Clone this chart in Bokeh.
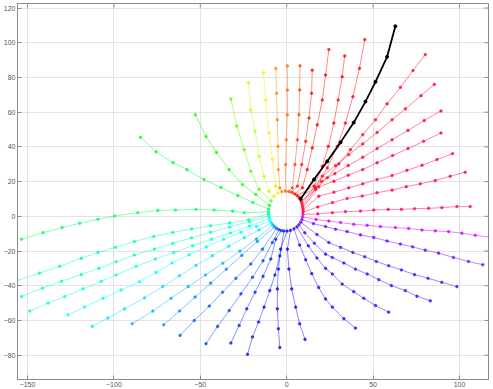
import colorsys
from bokeh.plotting import figure
from bokeh.models import Range1d, FixedTicker, ColumnDataSource
from bokeh.embed import file_html
from bokeh.resources import INLINE

# ---------------- data ----------------
X_TICKS = [-150, -100, -50, 0, 50, 100]
Y_TICKS = [-80, -60, -40, -20, 0, 20, 40, 60, 80, 100, 120]
X_LIM = (-155.8, 116.8)
Y_LIM = (-94.0, 122.6)

# each trajectory: (x values, y values), from the start circle outward
tr_u = ([9.4, 18.0, 26.4, 34.0, 42.7, 50.4, 58.7, 66.4, 74.0, 82.1, 89.8, 98.5, 106.2],
        [1.1, 1.4, 2.1, 2.7, 3.0, 3.6, 4.0, 4.0, 4.4, 4.6, 5.0, 5.6, 5.6])
tr_v = ([9.5, 18.0, 26.5, 35.0, 43.7, 52.3, 61.0, 69.2, 77.3, 86.0, 94.6, 103.3],
        [2.5, 5.4, 7.9, 10.3, 11.7, 13.6, 15.1, 17.1, 18.7, 20.6, 23.1, 25.4])
tr_w = ([9.5, 18.6, 27.3, 35.9, 44.0, 52.3, 61.0, 69.6, 78.3, 87.0, 96.0],
        [3.7, 11.6, 13.9, 16.4, 18.7, 21.2, 23.5, 26.5, 29.4, 32.7, 36.1])
tr_x = ([9.3, 18.6, 27.3, 35.6, 44.0, 52.3, 61.3, 70.2, 79.2, 89.3],
        [4.9, 17.0, 20.2, 23.7, 26.9, 30.8, 35.0, 39.0, 43.2, 48.0])
tr_y = ([9.1, 20.2, 27.9, 35.6, 44.0, 52.3, 61.0, 70.2, 79.6, 89.3],
        [6.1, 20.2, 24.6, 29.2, 34.0, 39.0, 44.1, 49.5, 55.2, 60.7])
tr_z = ([8.8, 20.6, 28.3, 35.9, 44.0, 52.3, 61.0, 68.7, 77.7, 85.4],
        [7.4, 23.1, 29.2, 35.5, 41.7, 48.3, 55.6, 61.9, 69.5, 76.0])
tr_aa = ([8.4, 16.7, 23.5, 30.2, 36.9, 44.0, 51.4, 58.1, 65.8, 73.1, 80.2],
         [8.6, 15.5, 22.2, 30.2, 38.4, 47.0, 55.6, 64.8, 74.3, 84.0, 93.2])
tr_black = ([8.1, 15.8, 23.5, 31.2, 38.8, 45.6, 51.4, 58.1, 62.9],
            [10.0, 21.2, 31.7, 42.6, 54.0, 66.1, 77.5, 91.9, 109.5])
tr_bb = ([7.1, 16.7, 23.5, 29.3, 34.0, 38.3, 42.1, 45.2],
         [10.9, 16.4, 27.9, 40.3, 53.7, 68.9, 85.2, 101.8])
tr_cc = ([6.0, 15.8, 20.6, 24.1, 27.3, 29.8, 32.1, 33.6],
         [11.9, 17.4, 28.8, 40.3, 53.7, 67.0, 80.4, 92.4])
tr_dd = ([4.6, 9.1, 11.9, 14.8, 17.7, 20.6, 22.5, 24.4],
         [12.9, 16.4, 26.9, 39.4, 52.7, 67.0, 81.4, 96.1])
tr_ee = ([3.0, 6.2, 8.7, 11.0, 12.9, 14.4, 14.8],
         [13.8, 17.4, 29.8, 43.2, 56.6, 70.9, 84.2])
tr_ff = ([1.2, 3.3, 4.8, 6.2, 7.1, 7.5, 7.7],
         [14.3, 16.4, 29.8, 44.1, 58.5, 72.8, 86.7])
tr_gg = ([-0.8, -0.6, -0.2, 0.4, 0.4, 0.4],
         [14.5, 29.8, 44.1, 58.5, 72.8, 86.7])
tr_hh = ([-2.8, -4.0, -4.8, -5.0, -5.4, -5.9, -6.3],
         [14.2, 16.4, 26.9, 40.3, 55.6, 70.9, 85.2])
tr_ii = ([-5.0, -6.3, -8.3, -10.2, -12.1, -13.5],
         [13.3, 17.4, 32.7, 48.0, 67.0, 82.7])
tr_jj = ([-7.2, -10.2, -13.1, -16.0, -18.3, -20.8, -22.1],
         [11.5, 14.5, 23.1, 34.6, 48.9, 61.3, 77.0])
tr_kk = ([-9.0, -16.0, -20.8, -24.6, -28.9, -32.3],
         [8.9, 15.5, 26.0, 38.4, 52.1, 67.6])
tr_ll = ([-10.0, -17.9, -25.6, -33.3, -40.6, -46.7, -52.9],
         [6.3, 12.6, 18.3, 26.9, 36.8, 46.0, 58.5])
tr_mm = ([-10.4, -19.6, -28.3, -38.1, -47.9, -57.7, -65.8, -75.6, -84.6],
         [4.2, 8.0, 12.0, 16.6, 21.2, 26.9, 30.9, 37.2, 45.5])
tr_a = ([-10.5, -24.6, -31.3, -42.0, -52.5, -64.4, -74.6, -86.2, -99.6, -109.2, -119.8, -130.0, -141.0, -153.5],
        [2.6, 2.1, 3.0, 3.6, 4.0, 3.6, 3.4, 2.1, 0.2, -1.7, -4.0, -6.5, -9.4, -13.2])
tr_b = ([-10.45, -22.0, -33.0, -44.0, -55.0, -66.0, -76.9, -88.1, -99.1, -109.2, -118.9, -131.4, -143.0, -156.4],
        [1.4, -2.0, -3.8, -5.5, -7.3, -9.3, -11.6, -14.5, -17.9, -20.8, -24.2, -28.8, -32.7, -37.1])
tr_c = ([-10.3, -21.5, -33.0, -44.0, -55.0, -66.0, -76.6, -88.1, -98.7, -108.7, -118.9, -130.4, -141.4, -153.5],
        [0.2, -3.0, -6.2, -9.2, -12.4, -15.6, -18.9, -22.3, -26.2, -30.0, -33.6, -37.4, -41.4, -46.2])
tr_d = ([-10.0, -21.5, -32.5, -43.5, -54.5, -65.4, -76.0, -87.1, -98.7, -107.3, -117.9, -128.5, -138.1, -148.7],
        [-1.1, -5.6, -9.6, -13.2, -17.0, -20.8, -24.6, -28.8, -33.8, -37.4, -41.8, -46.2, -50.0, -54.6])
tr_e = ([-9.5, -17.5, -26.5, -36.5, -46.5, -56.5, -66.4, -75.6, -85.2, -95.8, -106.3, -117.0, -126.5],
        [-2.5, -5.8, -9.2, -13.2, -17.6, -22.2, -26.9, -32.3, -37.7, -42.4, -47.2, -52.3, -56.7])
tr_f = ([-8.8, -16.0, -24.5, -33.5, -43.0, -52.5, -62.1, -71.7, -82.3, -93.9, -103.5, -112.5],
        [-3.8, -7.9, -12.3, -17.2, -22.7, -28.3, -34.2, -40.5, -47.0, -53.3, -58.6, -63.4])
tr_g = ([-8.0, -17.5, -27.0, -37.0, -47.0, -57.0, -66.9, -77.5, -89.4],
        [-5.0, -13.0, -20.0, -27.0, -33.8, -40.5, -47.2, -54.6, -61.9])
tr_h = ([-7.0, -17.0, -26.0, -35.0, -44.0, -53.0, -62.0, -71.2],
        [-6.1, -14.5, -22.5, -30.5, -38.5, -46.5, -54.5, -62.5])
tr_i = ([-5.8, -14.0, -20.8, -29.4, -37.1, -44.8, -53.5, -61.7],
        [-7.0, -18.9, -27.5, -35.7, -43.7, -51.7, -60.0, -68.6])
tr_j = ([-4.5, -8.3, -13.7, -19.8, -26.5, -33.3, -40.0, -46.7],
        [-7.7, -15.1, -25.6, -35.1, -44.7, -54.3, -63.4, -73.4])
tr_k = ([-3.1, -6.3, -9.2, -13.7, -18.3, -23.1, -27.5, -32.3],
        [-8.2, -13.2, -24.6, -34.6, -43.7, -53.3, -62.9, -73.0])
tr_l = ([-1.6, -4.0, -6.8, -9.8, -13.1, -16.3, -19.8, -22.7],
        [-8.45, -22.8, -33.8, -42.8, -52.3, -60.9, -69.5, -79.5])
tr_m = ([0.2, -3.5, -4.8, -5.4, -5.4, -4.8, -4.0],
        [-8.5, -18.9, -30.4, -41.8, -53.3, -64.8, -75.6])
tr_n = ([2.2, 0.4, 1.3, 2.9, 5.2, 7.5, 10.6],
        [-8.1, -18.9, -30.4, -41.8, -52.3, -61.9, -70.9])
tr_o = ([4.2, 7.5, 11.0, 14.5, 18.5, 22.5, 26.4, 33.1, 39.8],
        [-7.2, -16.5, -25.0, -33.0, -41.0, -47.6, -52.3, -59.0, -64.4])
tr_p = ([5.9, 12.5, 17.5, 22.5, 26.4, 32.1, 38.8, 44.6, 51.4, 59.0],
        [-6.1, -17.0, -24.0, -30.0, -33.2, -39.0, -43.4, -47.2, -51.4, -55.2])
tr_q = ([7.1, 10.5, 16.0, 22.5, 26.4, 33.1, 39.8, 46.6, 53.3, 60.6, 68.7, 75.4, 83.1],
        [-4.9, -9.5, -15.5, -21.8, -23.7, -26.9, -30.4, -33.2, -36.5, -39.9, -42.8, -46.0, -48.7])
tr_r = ([8.1, 17.5, 24.4, 31.2, 38.3, 45.2, 51.9, 59.0, 66.4, 74.0, 81.8, 89.8, 98.5],
        [-3.4, -10.5, -15.1, -17.9, -20.8, -23.3, -26.0, -28.5, -30.9, -33.6, -35.7, -38.0, -40.5])
tr_s = ([8.8, 15.5, 22.5, 28.3, 35.0, 42.7, 50.4, 58.1, 65.8, 72.9, 80.2, 87.9, 96.5, 105.2, 113.5],
        [-1.9, -4.2, -5.9, -7.4, -8.8, -10.7, -12.2, -14.2, -16.0, -17.6, -19.5, -21.2, -23.7, -26.0, -27.9])
tr_t = ([9.2, 17.0, 24.4, 31.2, 38.8, 46.6, 54.2, 62.9, 70.6, 78.3, 86.0, 93.7, 101.4, 109.1, 117.5],
        [-0.4, -1.8, -2.7, -3.6, -4.6, -5.2, -5.9, -6.5, -7.0, -7.9, -8.4, -8.8, -9.7, -10.9, -12.0])

# colored trajectories, counter-clockwise around the circle, with their hues
colored_trajs = [tr_u, tr_v, tr_w, tr_x, tr_y, tr_z, tr_aa,
                 tr_bb, tr_cc, tr_dd, tr_ee, tr_ff, tr_gg, tr_hh, tr_ii, tr_jj, tr_kk, tr_ll, tr_mm,
                 tr_a, tr_b, tr_c, tr_d, tr_e, tr_f, tr_g, tr_h, tr_i, tr_j, tr_k, tr_l, tr_m,
                 tr_n, tr_o, tr_p, tr_q, tr_r, tr_s, tr_t]
traj_hues = [0.93, 0.955, 0.96, 0.965, 0.97, 0.975, 0.98,
             0.99, 0.995, 0.0, 0.01, 0.04, 0.07, 0.09, 0.15, 0.21, 0.28, 0.33, 0.37,
             0.40, 0.44, 0.46, 0.48, 0.50, 0.52, 0.55, 0.58, 0.61, 0.63, 0.645, 0.655, 0.665,
             0.675, 0.685, 0.695, 0.705, 0.715, 0.735, 0.80]


def hue_to_hex(h):
    r, g, b = colorsys.hsv_to_rgb(h % 1.0, 1.0, 1.0)
    return "#%02x%02x%02x" % (int(r * 255), int(g * 255), int(b * 255))


colors = [hue_to_hex(h) for h in traj_hues]

# ---------------- figure ----------------
FRAME_W, FRAME_H = 471, 376
p = figure(frame_width=FRAME_W, frame_height=FRAME_H,
           x_range=Range1d(*X_LIM), y_range=Range1d(*Y_LIM),
           output_backend="svg", toolbar_location=None,
           min_border_left=13, min_border_right=1, min_border_top=3, min_border_bottom=0)
p.background_fill_color = "white"
p.border_fill_color = "white"
p.outline_line_color = "#8a8a8a"

AX_COL = "#8a8a8a"
p.xaxis.ticker = FixedTicker(ticks=X_TICKS)
p.yaxis.ticker = FixedTicker(ticks=Y_TICKS)
p.xgrid.ticker = FixedTicker(ticks=X_TICKS)
p.ygrid.ticker = FixedTicker(ticks=Y_TICKS)
p.grid.grid_line_color = "#e2e2e2"
p.grid.grid_line_width = 1

for ax in [p.xaxis[0], p.yaxis[0]]:
    ax.axis_line_color = AX_COL
    ax.major_tick_line_color = AX_COL
    ax.major_tick_in = 4
    ax.major_tick_out = 0
    ax.minor_tick_line_color = None
    ax.major_label_text_font = "Liberation Sans"
    ax.major_label_text_font_size = "7px"
    ax.major_label_text_color = "#555555"
    ax.major_label_standoff = 2

# inward tick marks on the top and right edges of the box (length ~4 px)
tick_dx = 4.0 * (X_LIM[1] - X_LIM[0]) / FRAME_W
tick_dy = 4.0 * (Y_LIM[1] - Y_LIM[0]) / FRAME_H
p.segment(x0=X_TICKS, x1=X_TICKS, y0=[Y_LIM[1]] * len(X_TICKS), y1=[Y_LIM[1] - tick_dy] * len(X_TICKS),
          line_color=AX_COL, line_width=1)
p.segment(x0=[X_LIM[1]] * len(Y_TICKS), x1=[X_LIM[1] - tick_dx] * len(Y_TICKS), y0=Y_TICKS, y1=Y_TICKS,
          line_color=AX_COL, line_width=1)

src = ColumnDataSource(dict(xs=[t[0] for t in colored_trajs],
                            ys=[t[1] for t in colored_trajs],
                            color=colors))
p.multi_line("xs", "ys", source=src, line_color="color", line_width=1, line_alpha=0.48)

mx, my, mc = [], [], []
for t, c in zip(colored_trajs, colors):
    mx.extend(t[0])
    my.extend(t[1])
    mc.extend([c] * len(t[0]))
msrc = ColumnDataSource(dict(x=mx, y=my, color=mc))
p.scatter("x", "y", source=msrc, size=2.6, fill_color="color", line_color="color",
          fill_alpha=0.75, line_alpha=0.55, marker="circle")

p.line(tr_black[0], tr_black[1], line_color="black", line_width=1.8)
p.scatter(tr_black[0], tr_black[1], size=3, color="black", marker="circle")

open("out.html", "w").write(file_html(p, INLINE))
